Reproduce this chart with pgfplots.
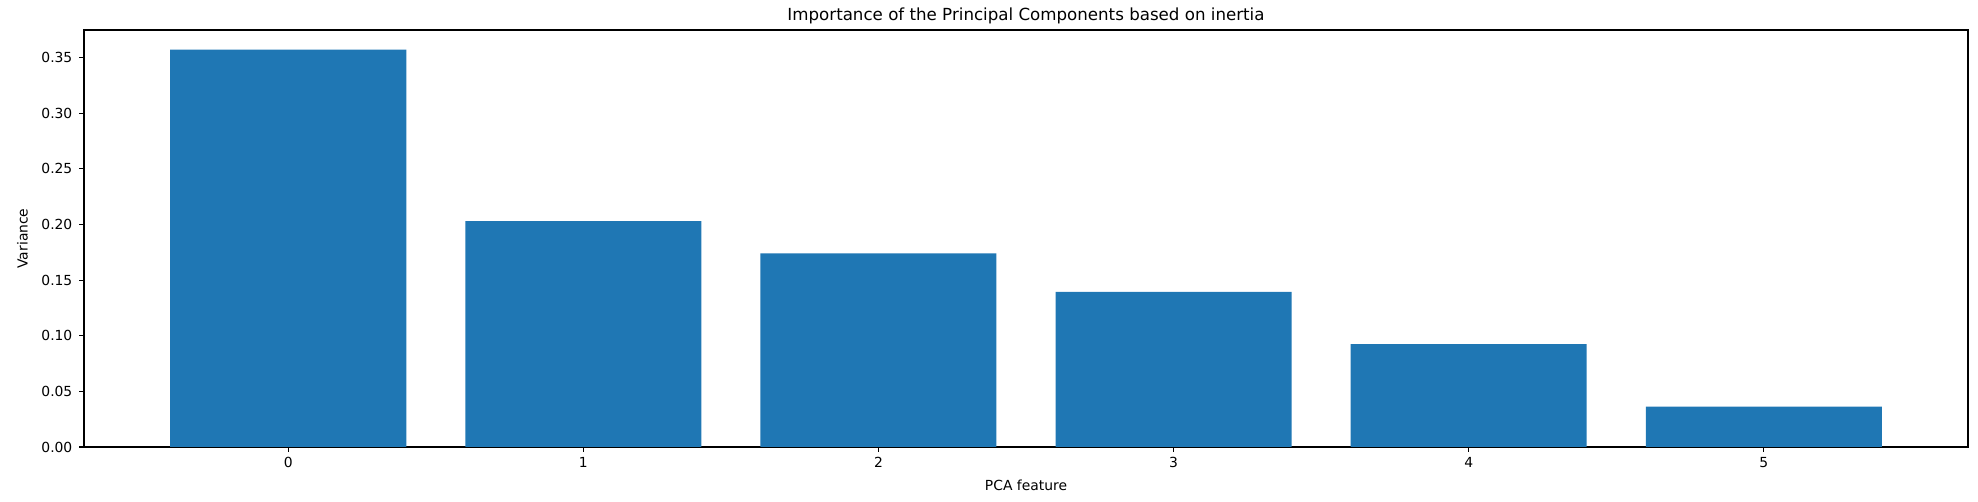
\documentclass[border=0pt]{standalone}
\usepackage{fontspec}
\setmainfont{DejaVu Sans}
\usepackage{pgfplots}
\pgfplotsset{compat=1.18}
\definecolor{barblue}{HTML}{1F77B4}
\pgfplotstableread{
x y
0 0.3572
1 0.2030
2 0.1740
3 0.1395
4 0.0925
5 0.0362
}\pcadata
\begin{document}
\begin{tikzpicture}
\path (-42pt,-27.5pt) rectangle (947pt,223.5pt);
\begin{axis}[
  at={(0,0)}, anchor=south west,
  width=942pt, height=208.5pt, scale only axis,
  xmin=-0.692, xmax=5.692, ymin=0, ymax=0.3749,
  ybar, bar width=0.8,
  xtick={0,1,2,3,4,5},
  ytick={0,0.05,0.10,0.15,0.20,0.25,0.30,0.35},
  tick align=outside, xtick pos=bottom, ytick pos=left,
  major tick length=2.43pt,
  axis line style={line width=0.55pt, black},
  every tick/.style={line width=0.55pt, black},
  /pgf/number format/assume math mode=true,
  ticklabel style={font=\fontsize{6.94}{8}\selectfont, inner sep=0pt},
  yticklabel style={/pgf/number format/.cd, fixed, fixed zerofill, precision=2, /tikz/.cd, anchor=east, xshift=-3.2pt},
  xticklabel style={anchor=north, yshift=-2.57pt},
  title={Importance of the Principal Components based on inertia},
  every axis title/.style={font=\fontsize{8.33}{10}\selectfont, at={(axis description cs:0.5,1)}, anchor=base, yshift=4.75pt, inner sep=0pt},
  xlabel={PCA feature},
  xlabel style={font=\fontsize{6.94}{8}\selectfont, at={(axis description cs:0.5,0)}, anchor=base, yshift=-22pt, inner sep=0pt},
  ylabel={Variance},
  ylabel style={font=\fontsize{6.94}{8}\selectfont, at={(axis description cs:-0.03264,0.5)}, anchor=center, inner sep=0pt},
]
\addplot[fill=barblue, draw=none] table[x=x, y=y] {\pcadata};
\end{axis}
\end{tikzpicture}
\end{document}
